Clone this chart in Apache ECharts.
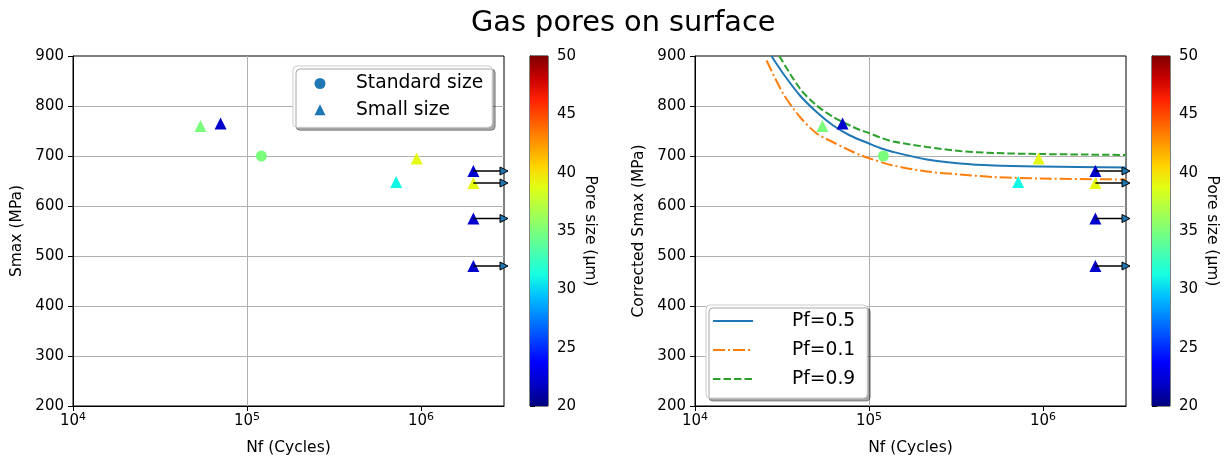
<!DOCTYPE html>
<html>
<head>
<meta charset="utf-8">
<script src="https://cdn.jsdelivr.net/npm/echarts@6/dist/echarts.min.js"></script>
<style>
html,body{margin:0;padding:0;background:#fff;}
#chart{width:1227px;height:463px;}
</style>
</head>
<body>
<div id="chart"></div>
<script>
// ---------------- data ----------------
const titleText = 'Gas pores on surface';
const xMin = 1e4, xMax = 3e6;
const xTicks = [1e4, 1e5, 1e6];
const yMin = 200, yMax = 900, yStep = 100;
const cbMin = 20, cbMax = 50, cbStep = 5;

// Standard size specimens
const nfStandard = [121000];
const smaxStandard = [700];
const poreStandard = [35];

// Small size specimens
const nfSmall = [54000, 70500, 720000, 945000, 2000000, 2000000, 2000000, 2000000];
const smaxSmall = [760, 765, 648, 695, 670, 646, 575, 480];
const poreSmall = [35, 22, 31, 39, 22, 39, 22, 22];

// Run-outs (arrows)
const runoutNf = 2000000;
const runoutEndNf = 3000000;
const runoutSmax = [670, 646, 575, 480];

// Probabilistic curves (right panel)
const curveNf50 = [27500, 32100, 40100, 50000, 62300, 77800, 100000, 115700, 138000, 215000, 334000, 520000, 964000, 3000000];
const curveS50  = [900, 865, 821, 788, 761, 741, 725, 716, 708, 693, 685, 681, 679, 677];
const curveNf10 = [25800, 32100, 40100, 50000, 57100, 77800, 88800, 101000, 138000, 215000, 334000, 520000, 964000, 3000000];
const curveS10  = [891, 825, 778, 745, 734, 711, 702, 695, 681, 669, 663, 658, 655, 653];
const curveNf90 = [30500, 40100, 50000, 62300, 77800, 88800, 100000, 115700, 138000, 215000, 334000, 520000, 964000, 3000000];
const curveS90  = [900, 835, 801, 778, 761, 752, 746, 737, 729, 718, 710, 706, 704, 702];

const legendLeft = ['Standard size', 'Small size'];
const legendRight = ['Pf=0.5', 'Pf=0.1', 'Pf=0.9'];

// ---------------- styles ----------------
const FF = 'DejaVu Sans';
const jetColors = ['#000080','#0000c8','#0000ff','#0040ff','#0080ff','#00bfff','#15ffe2','#48ffaf','#7bff7b','#afff48','#e2ff15','#ffd200','#ff9700','#ff5c00','#ff2100','#c80000','#800000'];
const C0 = '#1f77b4', C1 = '#ff7f0e', C2 = '#2ca02c';

const chart = echarts.init(document.getElementById('chart'), null, {renderer: 'canvas'});

const grids = [
  {left: 73, top: 56, width: 431, height: 350},
  {left: 530, top: 56, width: 18, height: 350},
  {left: 695, top: 56, width: 431, height: 350},
  {left: 1152, top: 56, width: 18, height: 350}
].map(g => Object.assign(g, {show: true, borderColor: '#000', borderWidth: 1, backgroundColor: 'transparent'}));

function logX(gi) {
  return {
    type: 'log', logBase: 10, gridIndex: gi, min: xMin, max: xMax,
    name: 'Nf (Cycles)', nameLocation: 'middle', nameGap: 34,
    nameTextStyle: {fontSize: 15.5, color: '#000', fontFamily: FF},
    axisLine: {show: true, lineStyle: {color: '#000', width: 1}},
    axisTick: {show: true, length: 5, lineStyle: {color: '#000'}, customValues: xTicks},
    axisLabel: {
      customValues: xTicks, margin: 6,
      formatter: v => '{b|10}{s|' + Math.round(Math.log10(v)) + '}',
      rich: {
        b: {fontSize: 15, color: '#000', fontFamily: FF},
        s: {fontSize: 11, color: '#000', fontFamily: FF, verticalAlign: 'top', padding: [0, 0, 7, 0]}
      }
    },
    splitLine: {show: true, showMinLine: false, showMaxLine: false, lineStyle: {color: '#b0b0b0', width: 1}},
    minorTick: {show: false}
  };
}
function valY(gi, name) {
  return {
    type: 'value', gridIndex: gi, min: yMin, max: yMax, interval: yStep,
    name: name, nameLocation: 'middle', nameGap: 48,
    nameTextStyle: {fontSize: 15.5, color: '#000', fontFamily: FF},
    axisLine: {show: true, lineStyle: {color: '#000', width: 1}},
    axisTick: {show: true, length: 5, lineStyle: {color: '#000'}},
    axisLabel: {fontSize: 15, color: '#000', fontFamily: FF, margin: 9},
    splitLine: {show: true, showMinLine: false, showMaxLine: false, lineStyle: {color: '#b0b0b0', width: 1}}
  };
}
function cbX(gi) {
  return {type: 'value', gridIndex: gi, min: 0, max: 1, show: false};
}
function cbY(gi) {
  return {
    type: 'value', gridIndex: gi, position: 'right', min: cbMin, max: cbMax, interval: cbStep,
    name: 'Pore size (µm)', nameLocation: 'middle', nameRotate: -90, nameGap: 34,
    nameTextStyle: {fontSize: 15.5, color: '#000', fontFamily: FF},
    axisLine: {show: true, lineStyle: {color: '#000', width: 1}},
    axisTick: {show: true, length: 5, lineStyle: {color: '#000'}},
    axisLabel: {fontSize: 15, color: '#000', fontFamily: FF, margin: 9},
    splitLine: {show: false}
  };
}

function scatterSeries(name, nf, s, pore, symbol, size, xi, yi) {
  return {
    type: 'scatter', name: name, xAxisIndex: xi, yAxisIndex: yi,
    symbol: symbol, symbolSize: size,
    itemStyle: {color: C0, opacity: 1},
    data: nf.map((n, i) => [n, s[i], pore[i]]),
    z: 5
  };
}
function arrowSeries(xi, yi) {
  return runoutSmax.map(v => ({
    type: 'line', xAxisIndex: xi, yAxisIndex: yi, clip: false, silent: true,
    symbolSize: 8, showSymbol: true,
    lineStyle: {color: '#000', width: 1.5},
    itemStyle: {color: C0, borderColor: '#000', borderWidth: 1},
    data: [
      {value: [runoutNf, v], symbol: 'none'},
      {value: [runoutEndNf, v], symbol: 'triangle', symbolRotate: -90}
    ],
    z: 6
  }));
}
function curveSeries(name, nf, s, color, type, xi, yi) {
  return {
    type: 'line', name: name, xAxisIndex: xi, yAxisIndex: yi,
    symbol: 'none', showSymbol: false, smooth: 0.3, clip: true,
    lineStyle: {color: color, width: 2, type: type},
    itemStyle: {color: color},
    data: nf.map((n, i) => [n, s[i]]),
    z: 4
  };
}
function colorbarSeries(xi, yi) {
  return {
    type: 'custom', xAxisIndex: xi, yAxisIndex: yi, silent: true,
    data: [[0, cbMin, 1, cbMax]],
    renderItem: (params, api) => {
      const a = api.coord([api.value(0), api.value(3)]);
      const b = api.coord([api.value(2), api.value(1)]);
      return {
        type: 'rect',
        shape: {x: a[0], y: a[1], width: b[0] - a[0], height: b[1] - a[1]},
        style: {fill: new echarts.graphic.LinearGradient(0, 1, 0, 0,
          jetColors.map((c, i) => ({offset: i / (jetColors.length - 1), color: c})))}
      };
    }
  };
}

const series = [];
series.push(scatterSeries(legendLeft[0], nfStandard, smaxStandard, poreStandard, 'circle', 11, 0, 0)); // 0
series.push(scatterSeries(legendLeft[1], nfSmall, smaxSmall, poreSmall, 'triangle', 12, 0, 0));        // 1
series.push(curveSeries(legendRight[0], curveNf50, curveS50, C0, 'solid', 2, 2));                      // 2
series.push(curveSeries(legendRight[1], curveNf10, curveS10, C1, [12, 3, 2, 3], 2, 2));               // 3
series.push(curveSeries(legendRight[2], curveNf90, curveS90, C2, [7.5, 3], 2, 2));                    // 4
series.push(scatterSeries(legendLeft[0], nfStandard, smaxStandard, poreStandard, 'circle', 11, 2, 2)); // 5
series.push(scatterSeries(legendLeft[1], nfSmall, smaxSmall, poreSmall, 'triangle', 12, 2, 2));        // 6
series.push(colorbarSeries(1, 1));
series.push(colorbarSeries(3, 3));
arrowSeries(0, 0).forEach(s => series.push(s));
arrowSeries(2, 2).forEach(s => series.push(s));

const option = {
  animation: false,
  backgroundColor: '#fff',
  textStyle: {fontFamily: FF},
  title: {
    text: titleText, left: 466, top: 4,
    textStyle: {fontSize: 28.8, fontWeight: 'normal', color: '#000', fontFamily: FF}
  },
  grid: grids,
  xAxis: [logX(0), cbX(1), logX(2), cbX(3)],
  yAxis: [valY(0, 'Smax (MPa)'), cbY(1), valY(2, 'Corrected Smax (MPa)'), cbY(3)],
  visualMap: {
    type: 'continuous', show: false, dimension: 2, min: cbMin, max: cbMax,
    seriesIndex: [0, 1, 5, 6],
    inRange: {color: jetColors}
  },
  legend: [
    {
      orient: 'vertical', left: 293, top: 66,
      padding: [8, 9, 8, 21.5], itemGap: 7.3, itemWidth: 11, itemHeight: 11,
      symbolKeepAspect: true,
      backgroundColor: '#fff', borderColor: '#cccccc', borderWidth: 1, borderRadius: 4,
      shadowColor: 'rgba(0,0,0,0.35)', shadowBlur: 0, shadowOffsetX: 3, shadowOffsetY: 3,
      data: [
        {name: legendLeft[0], icon: 'circle', itemStyle: {color: C0}},
        {name: legendLeft[1], icon: 'triangle', itemStyle: {color: C0}}
      ],
      formatter: n => '{t|' + n + '}',
      textStyle: {rich: {t: {fontSize: 18.7, color: '#000', fontFamily: FF, padding: [0, 0, 0, 25.5]}}},
      selectedMode: false
    },
    {
      orient: 'vertical', left: 706, top: 305,
      padding: [6.4, 12, 9.7, 6], itemGap: 10, itemWidth: 40, itemHeight: 14,
      backgroundColor: '#fff', borderColor: '#cccccc', borderWidth: 1, borderRadius: 4,
      shadowColor: 'rgba(0,0,0,0.35)', shadowBlur: 0, shadowOffsetX: 3, shadowOffsetY: 3,
      itemStyle: {opacity: 0},
      data: legendRight,
      formatter: n => '{t|' + n + '}',
      textStyle: {rich: {t: {fontSize: 18.7, color: '#000', fontFamily: FF, padding: [0, 0, 0, 34]}}},
      selectedMode: false
    }
  ],
  series: series
};
chart.setOption(option);
</script>
</body>
</html>
